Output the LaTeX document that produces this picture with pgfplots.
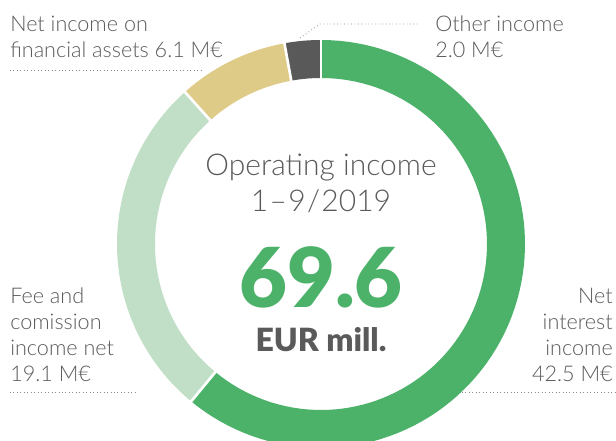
\documentclass[border=0pt]{standalone}
\usepackage{pgfplots}
\pgfplotsset{compat=1.18}
\usepackage{fontspec}
\setmainfont{Lato}
\newfontfamily\lightf{Lato Light}
\newfontfamily\blackf{Lato Black}
\definecolor{cgreen}{RGB}{76,178,106}
\definecolor{clight}{RGB}{193,223,198}
\definecolor{ctan}{RGB}{223,203,136}
\definecolor{cdark}{RGB}{89,89,89}
\definecolor{ctext}{RGB}{90,90,90}
\begin{document}
\begin{tikzpicture}
\useasboundingbox (0,0) rectangle (462pt,330.75pt);
% values (M EUR)
\def\vA{42.5}\def\vB{19.1}\def\vC{6.1}\def\vD{2.0}
\pgfmathsetmacro\tot{\vA+\vB+\vC+\vD}
\pgfmathsetmacro\aO{90}
\pgfmathsetmacro\aA{\aO-\vA/\tot*360}
\pgfmathsetmacro\aB{\aA-\vB/\tot*360}
\pgfmathsetmacro\aC{\aB-\vC/\tot*360}
\pgfmathsetmacro\aD{\aC-\vD/\tot*360}
\begin{axis}[hide axis, x=0.75pt, y=0.75pt, anchor=origin,
  at={(240.75pt,147.75pt)}, xmin=-210, xmax=210, ymin=-210, ymax=210,
  clip=false, samples=90, data cs=polar]
\addplot[cgreen, line width=28.5pt, domain=\aA:\aO] ({x},{185});
\addplot[clight, line width=28.5pt, domain=\aB:\aA] ({x},{185});
\addplot[ctan, line width=28.5pt, domain=\aC:\aB] ({x},{185});
\addplot[cdark, line width=28.5pt, domain=\aD:\aC] ({x},{185});
\addplot[white, line width=2pt] coordinates {(\aO,160) (\aO,210)};
\addplot[white, line width=2pt] coordinates {(\aA,160) (\aA,210)};
\addplot[white, line width=2pt] coordinates {(\aB,160) (\aB,210)};
\addplot[white, line width=2pt] coordinates {(\aC,160) (\aC,210)};
\end{axis}
\begin{scope}[x=0.75pt,y=-0.75pt,shift={(0,330.75pt)}]
\tikzset{lab/.style={text=ctext, font=\lightf\fontsize{16.2}{19.5}\selectfont, inner sep=0pt}}
\node[lab, anchor=base west, align=left] at (10,58) {Net income on\\financial assets 6.1 M€};
\node[lab, anchor=base west, align=left] at (435,58) {Other income\\2.0 M€};
\node[lab, anchor=base west, align=left] at (10,382) {Fee and\\comission\\income net\\19.1 M€};
\node[lab, anchor=base east, align=right] at (613,382) {Net\\interest\\income\\42.5 M€};
\draw[ctext!70, line width=0.6pt, dotted] (10,70) -- (203,70);
\draw[ctext!70, line width=0.6pt, dotted] (300,38) -- (320,24) -- (420,24);
\draw[ctext!70, line width=0.6pt, dotted] (10,392) -- (137,392);
\draw[ctext!70, line width=0.6pt, dotted] (462,392) -- (616,392);
\node[text=ctext, font=\lightf\fontsize{22.5}{26}\selectfont, anchor=base, inner sep=0pt] at (321,176) {Operating income};
\node[text=ctext, font=\lightf\fontsize{22.5}{26}\selectfont, anchor=base, inner sep=0pt] at (321,212) {1\kern1pt–\kern1pt9\kern1pt/\kern1pt2019};
\node[text=cgreen, font=\blackf\fontsize{62}{70}\selectfont, anchor=base, inner sep=0pt] at (321,308) {69.6};
\node[text=ctext, font=\blackf\fontsize{24}{26}\selectfont, anchor=base, inner sep=0pt] at (321,352) {EUR mill.};
\end{scope}
\end{tikzpicture}
\end{document}
